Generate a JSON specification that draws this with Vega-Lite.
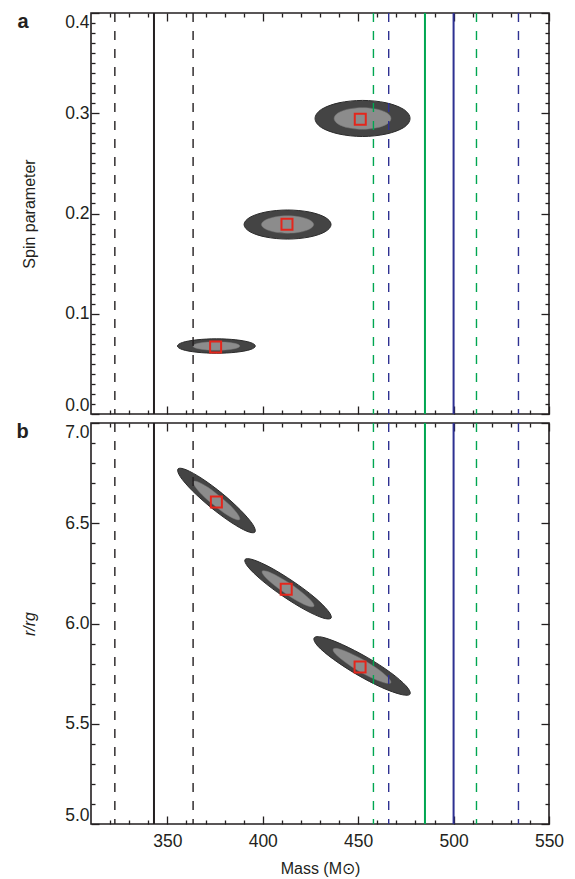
{
  "$schema": "https://vega.github.io/schema/vega-lite/v6.json",
  "padding": {"left": 15, "top": 11, "right": 10, "bottom": 5},
  "autosize": {"type": "pad"},
  "background": "white",
  "spacing": 5,
  "config": {
    "view": {"stroke": "#231f20", "strokeWidth": 1.6},
    "axis": {
      "domain": false, "grid": false, "ticks": true,
      "tickColor": "#231f20", "tickWidth": 1.3,
      "labelFont": "Liberation Sans", "labelFontSize": 17.5, "labelColor": "#231f20",
      "titleFont": "Liberation Sans", "titleFontSize": 16, "titleFontWeight": "normal", "titleColor": "#231f20"
    }
  },
  "datasets": {
    "lines": [
      {"mass": 322.5, "set": "A", "kind": "bound"},
      {"mass": 343, "set": "A", "kind": "central"},
      {"mass": 363.5, "set": "A", "kind": "bound"},
      {"mass": 458, "set": "B", "kind": "bound"},
      {"mass": 485, "set": "B", "kind": "central"},
      {"mass": 512, "set": "B", "kind": "bound"},
      {"mass": 466, "set": "C", "kind": "bound"},
      {"mass": 500, "set": "C", "kind": "central"},
      {"mass": 534, "set": "C", "kind": "bound"}
    ],
    "sqA": [
      {"mass": 451.1, "spin": 0.294},
      {"mass": 412.7, "spin": 0.1892},
      {"mass": 375.3, "spin": 0.0668}
    ],
    "sqB": [
      {"mass": 375.7, "r": 6.606},
      {"mass": 412.3, "r": 6.171},
      {"mass": 451.0, "r": 5.783}
    ],
    "ellA": [
      {"ell": 1, "lev": "outer", "i": 0, "mass": 477.2, "spin": 0.2948},
      {"ell": 1, "lev": "outer", "i": 1, "mass": 473.9, "spin": 0.3038},
      {"ell": 1, "lev": "outer", "i": 2, "mass": 464.7, "spin": 0.3104},
      {"ell": 1, "lev": "outer", "i": 3, "mass": 452.3, "spin": 0.3128},
      {"ell": 1, "lev": "outer", "i": 4, "mass": 439.9, "spin": 0.3104},
      {"ell": 1, "lev": "outer", "i": 5, "mass": 430.7, "spin": 0.3038},
      {"ell": 1, "lev": "outer", "i": 6, "mass": 427.4, "spin": 0.2948},
      {"ell": 1, "lev": "outer", "i": 7, "mass": 430.7, "spin": 0.2858},
      {"ell": 1, "lev": "outer", "i": 8, "mass": 439.9, "spin": 0.2793},
      {"ell": 1, "lev": "outer", "i": 9, "mass": 452.3, "spin": 0.2768},
      {"ell": 1, "lev": "outer", "i": 10, "mass": 464.7, "spin": 0.2793},
      {"ell": 1, "lev": "outer", "i": 11, "mass": 473.9, "spin": 0.2858},
      {"ell": 1, "lev": "inner", "i": 0, "mass": 467.2, "spin": 0.2948},
      {"ell": 1, "lev": "inner", "i": 1, "mass": 465.2, "spin": 0.3002},
      {"ell": 1, "lev": "inner", "i": 2, "mass": 459.8, "spin": 0.3041},
      {"ell": 1, "lev": "inner", "i": 3, "mass": 452.3, "spin": 0.3056},
      {"ell": 1, "lev": "inner", "i": 4, "mass": 444.8, "spin": 0.3041},
      {"ell": 1, "lev": "inner", "i": 5, "mass": 439.4, "spin": 0.3002},
      {"ell": 1, "lev": "inner", "i": 6, "mass": 437.4, "spin": 0.2948},
      {"ell": 1, "lev": "inner", "i": 7, "mass": 439.4, "spin": 0.2894},
      {"ell": 1, "lev": "inner", "i": 8, "mass": 444.8, "spin": 0.2855},
      {"ell": 1, "lev": "inner", "i": 9, "mass": 452.3, "spin": 0.284},
      {"ell": 1, "lev": "inner", "i": 10, "mass": 459.8, "spin": 0.2855},
      {"ell": 1, "lev": "inner", "i": 11, "mass": 465.2, "spin": 0.2894},
      {"ell": 2, "lev": "outer", "i": 0, "mass": 435.8, "spin": 0.189},
      {"ell": 2, "lev": "outer", "i": 1, "mass": 432.7, "spin": 0.1962},
      {"ell": 2, "lev": "outer", "i": 2, "mass": 424.4, "spin": 0.2015},
      {"ell": 2, "lev": "outer", "i": 3, "mass": 413.0, "spin": 0.2035},
      {"ell": 2, "lev": "outer", "i": 4, "mass": 401.6, "spin": 0.2015},
      {"ell": 2, "lev": "outer", "i": 5, "mass": 393.3, "spin": 0.1962},
      {"ell": 2, "lev": "outer", "i": 6, "mass": 390.2, "spin": 0.189},
      {"ell": 2, "lev": "outer", "i": 7, "mass": 393.3, "spin": 0.1818},
      {"ell": 2, "lev": "outer", "i": 8, "mass": 401.6, "spin": 0.1765},
      {"ell": 2, "lev": "outer", "i": 9, "mass": 413.0, "spin": 0.1745},
      {"ell": 2, "lev": "outer", "i": 10, "mass": 424.4, "spin": 0.1765},
      {"ell": 2, "lev": "outer", "i": 11, "mass": 432.7, "spin": 0.1818},
      {"ell": 2, "lev": "inner", "i": 0, "mass": 426.7, "spin": 0.189},
      {"ell": 2, "lev": "inner", "i": 1, "mass": 424.8, "spin": 0.1933},
      {"ell": 2, "lev": "inner", "i": 2, "mass": 419.8, "spin": 0.1965},
      {"ell": 2, "lev": "inner", "i": 3, "mass": 413.0, "spin": 0.1977},
      {"ell": 2, "lev": "inner", "i": 4, "mass": 406.2, "spin": 0.1965},
      {"ell": 2, "lev": "inner", "i": 5, "mass": 401.2, "spin": 0.1933},
      {"ell": 2, "lev": "inner", "i": 6, "mass": 399.3, "spin": 0.189},
      {"ell": 2, "lev": "inner", "i": 7, "mass": 401.2, "spin": 0.1847},
      {"ell": 2, "lev": "inner", "i": 8, "mass": 406.2, "spin": 0.1815},
      {"ell": 2, "lev": "inner", "i": 9, "mass": 413.0, "spin": 0.1803},
      {"ell": 2, "lev": "inner", "i": 10, "mass": 419.8, "spin": 0.1815},
      {"ell": 2, "lev": "inner", "i": 11, "mass": 424.8, "spin": 0.1847},
      {"ell": 3, "lev": "outer", "i": 0, "mass": 396.1, "spin": 0.0678},
      {"ell": 3, "lev": "outer", "i": 1, "mass": 393.4, "spin": 0.0714},
      {"ell": 3, "lev": "outer", "i": 2, "mass": 385.9, "spin": 0.074},
      {"ell": 3, "lev": "outer", "i": 3, "mass": 375.7, "spin": 0.075},
      {"ell": 3, "lev": "outer", "i": 4, "mass": 365.5, "spin": 0.074},
      {"ell": 3, "lev": "outer", "i": 5, "mass": 358.0, "spin": 0.0714},
      {"ell": 3, "lev": "outer", "i": 6, "mass": 355.3, "spin": 0.0678},
      {"ell": 3, "lev": "outer", "i": 7, "mass": 358.0, "spin": 0.0642},
      {"ell": 3, "lev": "outer", "i": 8, "mass": 365.5, "spin": 0.0616},
      {"ell": 3, "lev": "outer", "i": 9, "mass": 375.7, "spin": 0.0606},
      {"ell": 3, "lev": "outer", "i": 10, "mass": 385.9, "spin": 0.0616},
      {"ell": 3, "lev": "outer", "i": 11, "mass": 393.4, "spin": 0.0642},
      {"ell": 3, "lev": "inner", "i": 0, "mass": 388.0, "spin": 0.0678},
      {"ell": 3, "lev": "inner", "i": 1, "mass": 386.3, "spin": 0.07},
      {"ell": 3, "lev": "inner", "i": 2, "mass": 381.8, "spin": 0.0715},
      {"ell": 3, "lev": "inner", "i": 3, "mass": 375.7, "spin": 0.0721},
      {"ell": 3, "lev": "inner", "i": 4, "mass": 369.6, "spin": 0.0715},
      {"ell": 3, "lev": "inner", "i": 5, "mass": 365.1, "spin": 0.07},
      {"ell": 3, "lev": "inner", "i": 6, "mass": 363.4, "spin": 0.0678},
      {"ell": 3, "lev": "inner", "i": 7, "mass": 365.1, "spin": 0.0656},
      {"ell": 3, "lev": "inner", "i": 8, "mass": 369.6, "spin": 0.0641},
      {"ell": 3, "lev": "inner", "i": 9, "mass": 375.7, "spin": 0.0635},
      {"ell": 3, "lev": "inner", "i": 10, "mass": 381.8, "spin": 0.0641},
      {"ell": 3, "lev": "inner", "i": 11, "mass": 386.3, "spin": 0.0656}
    ],
    "ellB": [
      {"ell": 1, "lev": "outer", "i": 0, "mass": 395.9, "r": 6.456},
      {"ell": 1, "lev": "outer", "i": 1, "mass": 391.7, "r": 6.46},
      {"ell": 1, "lev": "outer", "i": 2, "mass": 383.3, "r": 6.505},
      {"ell": 1, "lev": "outer", "i": 3, "mass": 372.8, "r": 6.579},
      {"ell": 1, "lev": "outer", "i": 4, "mass": 363.1, "r": 6.662},
      {"ell": 1, "lev": "outer", "i": 5, "mass": 356.8, "r": 6.732},
      {"ell": 1, "lev": "outer", "i": 6, "mass": 355.6, "r": 6.771},
      {"ell": 1, "lev": "outer", "i": 7, "mass": 359.8, "r": 6.767},
      {"ell": 1, "lev": "outer", "i": 8, "mass": 368.3, "r": 6.722},
      {"ell": 1, "lev": "outer", "i": 9, "mass": 378.8, "r": 6.648},
      {"ell": 1, "lev": "outer", "i": 10, "mass": 388.4, "r": 6.565},
      {"ell": 1, "lev": "outer", "i": 11, "mass": 394.7, "r": 6.495},
      {"ell": 1, "lev": "inner", "i": 0, "mass": 387.9, "r": 6.519},
      {"ell": 1, "lev": "inner", "i": 1, "mass": 385.4, "r": 6.521},
      {"ell": 1, "lev": "inner", "i": 2, "mass": 380.3, "r": 6.548},
      {"ell": 1, "lev": "inner", "i": 3, "mass": 374.0, "r": 6.593},
      {"ell": 1, "lev": "inner", "i": 4, "mass": 368.2, "r": 6.642},
      {"ell": 1, "lev": "inner", "i": 5, "mass": 364.4, "r": 6.685},
      {"ell": 1, "lev": "inner", "i": 6, "mass": 363.7, "r": 6.708},
      {"ell": 1, "lev": "inner", "i": 7, "mass": 366.2, "r": 6.706},
      {"ell": 1, "lev": "inner", "i": 8, "mass": 371.3, "r": 6.679},
      {"ell": 1, "lev": "inner", "i": 9, "mass": 377.5, "r": 6.634},
      {"ell": 1, "lev": "inner", "i": 10, "mass": 383.4, "r": 6.585},
      {"ell": 1, "lev": "inner", "i": 11, "mass": 387.1, "r": 6.542},
      {"ell": 2, "lev": "outer", "i": 0, "mass": 435.8, "r": 6.027},
      {"ell": 2, "lev": "outer", "i": 1, "mass": 431.4, "r": 6.028},
      {"ell": 2, "lev": "outer", "i": 2, "mass": 422.2, "r": 6.068},
      {"ell": 2, "lev": "outer", "i": 3, "mass": 410.6, "r": 6.136},
      {"ell": 2, "lev": "outer", "i": 4, "mass": 399.7, "r": 6.214},
      {"ell": 2, "lev": "outer", "i": 5, "mass": 392.4, "r": 6.281},
      {"ell": 2, "lev": "outer", "i": 6, "mass": 390.7, "r": 6.319},
      {"ell": 2, "lev": "outer", "i": 7, "mass": 395.0, "r": 6.318},
      {"ell": 2, "lev": "outer", "i": 8, "mass": 404.3, "r": 6.278},
      {"ell": 2, "lev": "outer", "i": 9, "mass": 415.9, "r": 6.21},
      {"ell": 2, "lev": "outer", "i": 10, "mass": 426.8, "r": 6.133},
      {"ell": 2, "lev": "outer", "i": 11, "mass": 434.1, "r": 6.065},
      {"ell": 2, "lev": "inner", "i": 0, "mass": 426.8, "r": 6.086},
      {"ell": 2, "lev": "inner", "i": 1, "mass": 424.1, "r": 6.086},
      {"ell": 2, "lev": "inner", "i": 2, "mass": 418.6, "r": 6.11},
      {"ell": 2, "lev": "inner", "i": 3, "mass": 411.7, "r": 6.151},
      {"ell": 2, "lev": "inner", "i": 4, "mass": 405.1, "r": 6.198},
      {"ell": 2, "lev": "inner", "i": 5, "mass": 400.7, "r": 6.238},
      {"ell": 2, "lev": "inner", "i": 6, "mass": 399.7, "r": 6.261},
      {"ell": 2, "lev": "inner", "i": 7, "mass": 402.3, "r": 6.26},
      {"ell": 2, "lev": "inner", "i": 8, "mass": 407.8, "r": 6.236},
      {"ell": 2, "lev": "inner", "i": 9, "mass": 414.8, "r": 6.196},
      {"ell": 2, "lev": "inner", "i": 10, "mass": 421.4, "r": 6.149},
      {"ell": 2, "lev": "inner", "i": 11, "mass": 425.8, "r": 6.109},
      {"ell": 3, "lev": "outer", "i": 0, "mass": 477.2, "r": 5.648},
      {"ell": 3, "lev": "outer", "i": 1, "mass": 472.5, "r": 5.646},
      {"ell": 3, "lev": "outer", "i": 2, "mass": 462.3, "r": 5.681},
      {"ell": 3, "lev": "outer", "i": 3, "mass": 449.4, "r": 5.745},
      {"ell": 3, "lev": "outer", "i": 4, "mass": 437.1, "r": 5.821},
      {"ell": 3, "lev": "outer", "i": 5, "mass": 428.9, "r": 5.887},
      {"ell": 3, "lev": "outer", "i": 6, "mass": 426.9, "r": 5.928},
      {"ell": 3, "lev": "outer", "i": 7, "mass": 431.5, "r": 5.931},
      {"ell": 3, "lev": "outer", "i": 8, "mass": 441.7, "r": 5.895},
      {"ell": 3, "lev": "outer", "i": 9, "mass": 454.7, "r": 5.831},
      {"ell": 3, "lev": "outer", "i": 10, "mass": 466.9, "r": 5.756},
      {"ell": 3, "lev": "outer", "i": 11, "mass": 475.1, "r": 5.689},
      {"ell": 3, "lev": "inner", "i": 0, "mass": 467.1, "r": 5.704},
      {"ell": 3, "lev": "inner", "i": 1, "mass": 464.3, "r": 5.703},
      {"ell": 3, "lev": "inner", "i": 2, "mass": 458.2, "r": 5.724},
      {"ell": 3, "lev": "inner", "i": 3, "mass": 450.4, "r": 5.762},
      {"ell": 3, "lev": "inner", "i": 4, "mass": 443.1, "r": 5.808},
      {"ell": 3, "lev": "inner", "i": 5, "mass": 438.1, "r": 5.848},
      {"ell": 3, "lev": "inner", "i": 6, "mass": 436.9, "r": 5.872},
      {"ell": 3, "lev": "inner", "i": 7, "mass": 439.7, "r": 5.874},
      {"ell": 3, "lev": "inner", "i": 8, "mass": 445.8, "r": 5.852},
      {"ell": 3, "lev": "inner", "i": 9, "mass": 453.6, "r": 5.814},
      {"ell": 3, "lev": "inner", "i": 10, "mass": 460.9, "r": 5.769},
      {"ell": 3, "lev": "inner", "i": 11, "mass": 465.9, "r": 5.728}
    ]
  },
  "vconcat": [
    {
      "width": 458,
      "height": 401,
      "title": {"text": "a", "orient": "left", "anchor": "end", "angle": 0, "align": "left", "baseline": "alphabetic", "frame": "group", "offset": 0, "dx": 7, "dy": 15, "fontSize": 20, "fontWeight": "bold", "font": "Liberation Sans", "color": "#231f20"},
      "resolve": {"axis": {"x": "independent", "y": "independent"}},
      "layer": [
        {
          "data": {"name": "ellA"},
          "transform": [{"filter": {"field": "lev", "equal": "outer"}}],
          "mark": {"type": "line", "interpolate": "cardinal-closed", "fill": "#444444", "stroke": "#2b2b2b", "strokeWidth": 1},
          "encoding": {
            "x": {"field": "mass", "type": "quantitative", "scale": {"domain": [310, 550], "nice": false, "zero": false},
                  "axis": {"orient": "bottom", "values": [350, 400, 450, 500, 550], "labels": false, "tickSize": -8, "title": null}},
            "y": {"field": "spin", "type": "quantitative", "scale": {"domain": [0, 0.4], "nice": false, "zero": false},
                  "axis": {"orient": "left", "values": [0, 0.1, 0.2, 0.3, 0.4], "format": ".1f", "tickSize": -8, "labelPadding": 10, "labelFlush": true, "title": "Spin parameter", "titlePadding": 27}},
            "detail": {"field": "ell", "type": "nominal"},
            "order": {"field": "i", "type": "quantitative"}
          }
        },
        {
          "data": {"name": "ellA"},
          "transform": [{"filter": {"field": "lev", "equal": "inner"}}],
          "mark": {"type": "line", "interpolate": "cardinal-closed", "fill": "#8c8c8c", "stroke": "#777777", "strokeWidth": 0.5},
          "encoding": {
            "x": {"field": "mass", "type": "quantitative", "scale": {"domain": [310, 550], "nice": false, "zero": false},
                  "axis": {"orient": "top", "values": [350, 400, 450, 500, 550], "labels": false, "tickSize": -8, "title": null}},
            "y": {"field": "spin", "type": "quantitative", "scale": {"domain": [0, 0.4], "nice": false, "zero": false},
                  "axis": {"orient": "right", "values": [0, 0.1, 0.2, 0.3, 0.4], "labels": false, "tickSize": -8, "title": null}},
            "detail": {"field": "ell", "type": "nominal"},
            "order": {"field": "i", "type": "quantitative"}
          }
        },
        {
          "data": {"name": "lines"},
          "mark": {"type": "rule"},
          "encoding": {
            "x": {"field": "mass", "type": "quantitative", "scale": {"domain": [310, 550], "nice": false, "zero": false}, "axis": null},
            "color": {"field": "set", "type": "nominal", "scale": {"domain": ["A", "B", "C"], "range": ["#231f20", "#00a651", "#2e3192"]}, "legend": null},
            "strokeDash": {"field": "kind", "type": "nominal", "scale": {"domain": ["central", "bound"], "range": [[1, 0], [9, 9]]}, "legend": null},
            "strokeWidth": {"field": "kind", "type": "ordinal", "scale": {"domain": ["central", "bound"], "range": [2, 1.4]}, "legend": null}
          }
        },
        {
          "data": {"name": "sqA"},
          "mark": {"type": "square", "filled": false, "stroke": "#e4261c", "strokeWidth": 2, "size": 121, "opacity": 1},
          "encoding": {
            "x": {"field": "mass", "type": "quantitative", "scale": {"domain": [310, 550], "nice": false, "zero": false},
                  "axis": {"orient": "bottom", "values": [320, 330, 340, 360, 370, 380, 390, 410, 420, 430, 440, 460, 470, 480, 490, 510, 520, 530, 540], "labels": false, "tickSize": -4, "title": null}},
            "y": {"field": "spin", "type": "quantitative", "scale": {"domain": [0, 0.4], "nice": false, "zero": false},
                  "axis": {"orient": "left", "values": [0.01, 0.02, 0.03, 0.04, 0.05, 0.06, 0.07, 0.08, 0.09, 0.11, 0.12, 0.13, 0.14, 0.15, 0.16, 0.17, 0.18, 0.19, 0.21, 0.22, 0.23, 0.24, 0.25, 0.26, 0.27, 0.28, 0.29, 0.31, 0.32, 0.33, 0.34, 0.35, 0.36, 0.37, 0.38, 0.39], "labels": false, "tickSize": -4, "title": null}}
          }
        },
        {
          "data": {"name": "sqA"},
          "mark": {"type": "square", "opacity": 0},
          "encoding": {
            "x": {"field": "mass", "type": "quantitative", "scale": {"domain": [310, 550], "nice": false, "zero": false},
                  "axis": {"orient": "top", "values": [320, 330, 340, 360, 370, 380, 390, 410, 420, 430, 440, 460, 470, 480, 490, 510, 520, 530, 540], "labels": false, "tickSize": -4, "title": null}},
            "y": {"field": "spin", "type": "quantitative", "scale": {"domain": [0, 0.4], "nice": false, "zero": false},
                  "axis": {"orient": "right", "values": [0.01, 0.02, 0.03, 0.04, 0.05, 0.06, 0.07, 0.08, 0.09, 0.11, 0.12, 0.13, 0.14, 0.15, 0.16, 0.17, 0.18, 0.19, 0.21, 0.22, 0.23, 0.24, 0.25, 0.26, 0.27, 0.28, 0.29, 0.31, 0.32, 0.33, 0.34, 0.35, 0.36, 0.37, 0.38, 0.39], "labels": false, "tickSize": -4, "title": null}}
          }
        }
      ]
    },
    {
      "width": 458,
      "height": 401,
      "title": {"text": "b", "orient": "left", "anchor": "end", "angle": 0, "align": "left", "baseline": "alphabetic", "frame": "group", "offset": 0, "dx": 7, "dy": 15, "fontSize": 20, "fontWeight": "bold", "font": "Liberation Sans", "color": "#231f20"},
      "resolve": {"axis": {"x": "independent", "y": "independent"}},
      "layer": [
        {
          "data": {"name": "ellB"},
          "transform": [{"filter": {"field": "lev", "equal": "outer"}}],
          "mark": {"type": "line", "interpolate": "cardinal-closed", "fill": "#444444", "stroke": "#2b2b2b", "strokeWidth": 1},
          "encoding": {
            "x": {"field": "mass", "type": "quantitative", "scale": {"domain": [310, 550], "nice": false, "zero": false},
                  "axis": {"orient": "bottom", "values": [350, 400, 450, 500, 550], "format": "d", "labelFlush": false, "tickSize": -8, "labelPadding": 16, "title": "Mass (M⊙)", "titlePadding": 11}},
            "y": {"field": "r", "type": "quantitative", "scale": {"domain": [5, 7], "nice": false, "zero": false},
                  "axis": {"orient": "left", "values": [5, 5.5, 6, 6.5, 7], "format": ".1f", "tickSize": -8, "labelPadding": 10, "labelFlush": true, "title": "r/rg", "titleFontStyle": "italic", "titlePadding": 27}},
            "detail": {"field": "ell", "type": "nominal"},
            "order": {"field": "i", "type": "quantitative"}
          }
        },
        {
          "data": {"name": "ellB"},
          "transform": [{"filter": {"field": "lev", "equal": "inner"}}],
          "mark": {"type": "line", "interpolate": "cardinal-closed", "fill": "#8c8c8c", "stroke": "#777777", "strokeWidth": 0.5},
          "encoding": {
            "x": {"field": "mass", "type": "quantitative", "scale": {"domain": [310, 550], "nice": false, "zero": false},
                  "axis": {"orient": "top", "values": [350, 400, 450, 500, 550], "labels": false, "tickSize": -8, "title": null}},
            "y": {"field": "r", "type": "quantitative", "scale": {"domain": [5, 7], "nice": false, "zero": false},
                  "axis": {"orient": "right", "values": [5, 5.5, 6, 6.5, 7], "labels": false, "tickSize": -8, "title": null}},
            "detail": {"field": "ell", "type": "nominal"},
            "order": {"field": "i", "type": "quantitative"}
          }
        },
        {
          "data": {"name": "lines"},
          "mark": {"type": "rule"},
          "encoding": {
            "x": {"field": "mass", "type": "quantitative", "scale": {"domain": [310, 550], "nice": false, "zero": false}, "axis": null},
            "color": {"field": "set", "type": "nominal", "scale": {"domain": ["A", "B", "C"], "range": ["#231f20", "#00a651", "#2e3192"]}, "legend": null},
            "strokeDash": {"field": "kind", "type": "nominal", "scale": {"domain": ["central", "bound"], "range": [[1, 0], [9, 9]]}, "legend": null},
            "strokeWidth": {"field": "kind", "type": "ordinal", "scale": {"domain": ["central", "bound"], "range": [2, 1.4]}, "legend": null}
          }
        },
        {
          "data": {"name": "sqB"},
          "mark": {"type": "square", "filled": false, "stroke": "#e4261c", "strokeWidth": 2, "size": 121, "opacity": 1},
          "encoding": {
            "x": {"field": "mass", "type": "quantitative", "scale": {"domain": [310, 550], "nice": false, "zero": false},
                  "axis": {"orient": "bottom", "values": [320, 330, 340, 360, 370, 380, 390, 410, 420, 430, 440, 460, 470, 480, 490, 510, 520, 530, 540], "labels": false, "tickSize": -4, "title": null}},
            "y": {"field": "r", "type": "quantitative", "scale": {"domain": [5, 7], "nice": false, "zero": false},
                  "axis": {"orient": "left", "values": [5.1, 5.2, 5.3, 5.4, 5.6, 5.7, 5.8, 5.9, 6.1, 6.2, 6.3, 6.4, 6.6, 6.7, 6.8, 6.9], "labels": false, "tickSize": -4, "title": null}}
          }
        },
        {
          "data": {"name": "sqB"},
          "mark": {"type": "square", "opacity": 0},
          "encoding": {
            "x": {"field": "mass", "type": "quantitative", "scale": {"domain": [310, 550], "nice": false, "zero": false},
                  "axis": {"orient": "top", "values": [320, 330, 340, 360, 370, 380, 390, 410, 420, 430, 440, 460, 470, 480, 490, 510, 520, 530, 540], "labels": false, "tickSize": -4, "title": null}},
            "y": {"field": "r", "type": "quantitative", "scale": {"domain": [5, 7], "nice": false, "zero": false},
                  "axis": {"orient": "right", "values": [5.1, 5.2, 5.3, 5.4, 5.6, 5.7, 5.8, 5.9, 6.1, 6.2, 6.3, 6.4, 6.6, 6.7, 6.8, 6.9], "labels": false, "tickSize": -4, "title": null}}
          }
        }
      ]
    }
  ]
}
